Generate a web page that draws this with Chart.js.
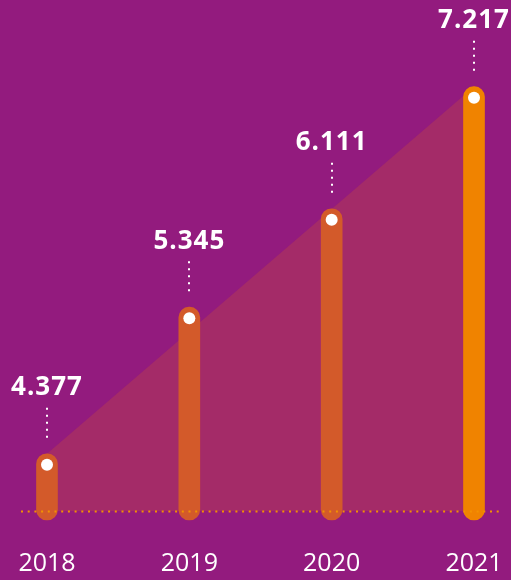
<!DOCTYPE html>
<html>
<head>
<meta charset="utf-8">
<script src="https://cdn.jsdelivr.net/npm/chart.js@4/dist/chart.umd.min.js"></script>
<style>
  html, body { margin: 0; padding: 0; background: #931b7e; }
  #wrap { width: 511px; height: 580px; position: relative; }
</style>
</head>
<body>
<div id="wrap"><canvas id="myChart"></canvas></div>
<script>
// data
const years = ['2018', '2019', '2020', '2021'];
const counts = [4377, 5345, 6111, 7217];
const countLabels = ['4.377', '5.345', '6.111', '7.217'];
const barColors = ['#d35a2a', '#d35a2a', '#d35a2a', '#f08300'];

// trend shade only runs from the first to the last year
const trend = counts.map((v, i) => (i === 0 || i === counts.length - 1 ? v : null));

const BASELINE = 4050;

// dots, dotted leaders, value labels, year labels and the dotted baseline
const decorations = {
  id: 'decorations',
  afterDatasetsDraw(chart) {
    const { ctx } = chart;
    const meta = chart.getDatasetMeta(1);
    const yScale = chart.scales.y;

    // dotted orange baseline
    const by = Math.round(yScale.getPixelForValue(BASELINE)) + 0.5;
    ctx.save();
    ctx.strokeStyle = '#f39200';
    ctx.lineWidth = 2;
    ctx.setLineDash([2, 4.7]);
    ctx.beginPath();
    ctx.moveTo(21, by);
    ctx.lineTo(501, by);
    ctx.stroke();
    ctx.restore();

    meta.data.forEach((bar, i) => {
      const x = bar.x;
      const top = bar.y;

      ctx.save();
      // white dot inside the rounded cap
      ctx.fillStyle = '#ffffff';
      ctx.beginPath();
      ctx.arc(x, top + 11, 6, 0, Math.PI * 2);
      ctx.fill();

      // dotted leader
      ctx.strokeStyle = '#ffffff';
      ctx.lineWidth = 2;
      ctx.setLineDash([2, 5]);
      ctx.beginPath();
      ctx.moveTo(Math.round(x), top - 46);
      ctx.lineTo(Math.round(x), top - 11);
      ctx.stroke();

      // value label
      ctx.setLineDash([]);
      ctx.font = 'bold 26px "Open Sans"';
      ctx.letterSpacing = '1px';
      ctx.textAlign = 'center';
      ctx.textBaseline = 'middle';
      ctx.fillText(countLabels[i], x, top - 66);

      // year label
      ctx.font = '25px "Open Sans"';
      ctx.letterSpacing = '0px';
      ctx.fillText(years[i], x, chart.chartArea.bottom + 44);
      ctx.restore();
    });
  },
};

const chartContext = document.getElementById('myChart').getContext('2d');

const chart = new Chart(chartContext, {
  data: {
    labels: years,
    datasets: [
      {
        type: 'line',
        data: trend,
        spanGaps: true,
        borderWidth: 0,
        pointRadius: 0,
        backgroundColor: 'rgba(211, 90, 42, 0.26)',
        fill: { value: BASELINE },
        order: 2,
      },
      {
        type: 'bar',
        data: counts,
        backgroundColor: barColors,
        barThickness: 21,
        borderRadius: 11,
        borderSkipped: false,
        clip: false,
        order: 1,
      },
    ],
  },
  options: {
    responsive: true,
    maintainAspectRatio: false,
    animation: false,
    layout: { padding: { left: 47, right: 37, top: 11, bottom: 60 } },
    plugins: {
      legend: { display: false },
      tooltip: { enabled: false },
    },
    scales: {
      x: {
        type: 'category',
        offset: false,
        display: false,
      },
      y: {
        type: 'logarithmic',
        min: 4000,
        max: 8000,
        display: false,
      },
    },
  },
  plugins: [decorations],
});
</script>
</body>
</html>
